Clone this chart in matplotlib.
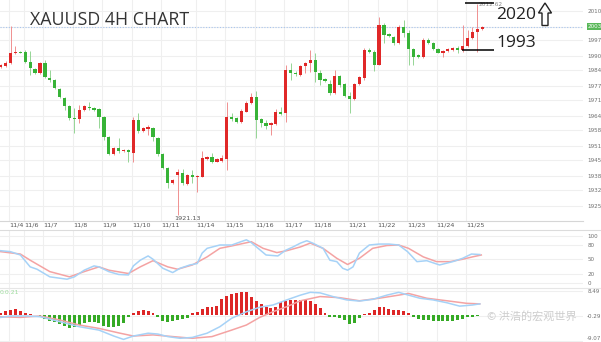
import numpy as np
import matplotlib
matplotlib.use("Agg")
import matplotlib.pyplot as plt
from matplotlib.patches import Polygon
from matplotlib.lines import Line2D
import matplotlib.transforms as mtrans

# ---- data ----------------------------------------------------------------
# 4H candles, oldest first (open, high, low, close)
opens = [1985.4, 1985.9, 1987.2, 1991.4, 1991.9, 1991.9, 1987.6, 1984.5, 1982.8, 1987.2,
         1980.6, 1979.8, 1975.8, 1972.1, 1968.4, 1963.4, 1962.8, 1966.7, 1968.1, 1967.6,
         1967.1, 1963.7, 1955.0, 1947.6, 1950.2, 1948.9, 1949.3, 1948.1, 1962.4, 1957.6,
         1958.3, 1958.7, 1954.5, 1947.6, 1941.5, 1934.9, 1938.4, 1939.4, 1934.5, 1938.4,
         1937.4, 1937.7, 1945.4, 1946.3, 1944.2, 1944.6, 1945.4, 1963.8, 1963.2, 1961.6,
         1966.0, 1969.9, 1972.2, 1962.8, 1961.2, 1960.2, 1960.6, 1966.0, 1965.3, 1984.1,
         1982.9, 1981.9, 1986.0, 1987.0, 1988.5, 1982.7, 1980.1, 1978.0, 1974.0, 1981.5,
         1978.0, 1972.8, 1971.4, 1978.0, 1980.5, 1992.8, 1992.1, 1986.3, 2003.7, 1999.6,
         1998.6, 1995.7, 2003.0, 2000.1, 1993.1, 1990.6, 1989.6, 1997.2, 1996.0, 1993.1,
         1991.6, 1992.4, 1992.8, 1993.6, 1992.8, 1994.7, 1997.9, 2000.8, 2001.8]
highs = [1986.7, 1988.0, 2003.3, 1994.6, 1992.4, 1992.8, 1992.5, 1985.0, 1987.6, 1988.5,
         1984.1, 1980.2, 1976.3, 1972.5, 1968.9, 1967.6, 1968.9, 1968.9, 1970.3, 1968.0,
         1967.6, 1964.1, 1955.4, 1950.6, 1954.5, 1949.7, 1949.7, 1963.8, 1965.4, 1959.3,
         1960.2, 1959.3, 1955.0, 1948.0, 1942.0, 1936.7, 1941.0, 1941.0, 1938.9, 1940.6,
         1938.4, 1949.0, 1946.7, 1947.9, 1945.8, 1947.1, 1970.3, 1965.5, 1963.7, 1967.1,
         1970.6, 1974.1, 1975.0, 1963.2, 1962.4, 1961.5, 1967.0, 1968.1, 1986.3, 1987.0,
         1983.7, 1986.3, 1987.7, 1992.8, 1991.4, 1984.1, 1980.6, 1979.8, 1984.1, 1981.9,
         1978.5, 1974.7, 1978.5, 1981.5, 1993.7, 1993.6, 1992.8, 2007.3, 2004.4, 2000.2,
         1998.9, 2003.5, 2005.9, 2001.5, 1993.7, 1991.1, 1997.9, 1997.9, 1996.3, 1993.5,
         1992.8, 1993.7, 1994.1, 1994.6, 2003.7, 2001.5, 2003.0, 2012.62, 2003.3]
lows = [1985.0, 1985.4, 1986.7, 1991.1, 1991.3, 1987.2, 1981.9, 1982.4, 1982.4, 1980.6,
        1978.9, 1975.8, 1971.9, 1966.7, 1962.4, 1956.7, 1961.0, 1966.3, 1966.7, 1966.3,
        1958.9, 1953.7, 1947.1, 1947.1, 1948.0, 1948.4, 1944.2, 1944.2, 1956.7, 1957.1,
        1955.8, 1953.3, 1946.7, 1941.0, 1932.8, 1934.5, 1921.13, 1934.1, 1934.1, 1934.9,
        1931.2, 1937.6, 1944.9, 1943.8, 1943.9, 1944.2, 1940.6, 1962.0, 1961.0, 1961.2,
        1965.8, 1969.5, 1954.5, 1959.4, 1958.4, 1955.8, 1960.2, 1964.5, 1961.6, 1979.8,
        1981.5, 1981.5, 1982.7, 1983.4, 1979.0, 1977.6, 1978.9, 1973.2, 1973.7, 1976.8,
        1972.2, 1965.3, 1971.1, 1977.6, 1979.8, 1991.4, 1983.8, 1986.1, 1995.7, 1998.5,
        1995.2, 1995.4, 1998.6, 1986.3, 1986.3, 1989.3, 1989.3, 1995.4, 1992.8, 1991.4,
        1989.6, 1991.9, 1992.5, 1991.4, 1992.1, 1994.3, 1997.6, 1992.1, 2001.5]
closes = [1986.3, 1987.3, 1991.5, 1992.1, 1991.6, 1987.6, 1985.0, 1982.8, 1987.2, 1981.1,
          1979.8, 1976.3, 1972.4, 1968.4, 1963.2, 1962.8, 1966.7, 1968.4, 1967.4, 1966.7,
          1963.7, 1955.0, 1947.6, 1950.2, 1948.9, 1949.1, 1948.4, 1962.4, 1957.6, 1958.7,
          1959.2, 1955.1, 1947.6, 1941.5, 1934.9, 1936.2, 1939.9, 1934.8, 1938.4, 1937.7,
          1938.0, 1945.8, 1946.3, 1944.2, 1945.4, 1945.8, 1963.8, 1962.7, 1961.6, 1966.4,
          1969.9, 1972.2, 1962.4, 1961.2, 1959.7, 1960.9, 1966.0, 1965.0, 1984.1, 1982.7,
          1982.2, 1985.9, 1987.0, 1988.5, 1983.4, 1979.8, 1979.5, 1974.0, 1981.5, 1977.6,
          1972.8, 1971.4, 1978.0, 1980.9, 1992.8, 1991.8, 1986.3, 2003.7, 1999.3, 1998.9,
          1995.7, 2003.0, 2000.1, 1993.1, 1989.9, 1989.6, 1997.2, 1995.7, 1993.1, 1991.6,
          1992.4, 1993.3, 1993.8, 1992.8, 1994.7, 1997.9, 2000.8, 2001.8, 2003.0]

day_labels = ["11/4", "11/6", "11/7", "11/8", "11/9", "11/10", "11/11", "11/14", "11/15",
              "11/16", "11/17", "11/18", "11/21", "11/22", "11/23", "11/24", "11/25"]
day_start = [2, 5, 9, 15, 21, 27, 33, 40, 46, 52, 58, 64, 71, 77, 83, 89, 95]

price_ticks = [2010, 2003, 1997, 1990, 1984, 1977, 1971, 1964, 1958, 1951, 1945, 1938, 1932, 1925]
last_price = 2003
swing_high = 2012.62
swing_low = 1921.13

# stochastic (%K blue, %D red), sampled along the candles
k_idx = [0, 2, 4, 6, 7.4, 10, 13.5, 15, 17, 19, 20, 22, 24, 26, 27, 28.4, 30, 31, 33, 35,
         36.5, 38.5, 40, 41, 42, 44.6, 47, 50, 51, 54, 56.4, 58, 59.5, 61, 62.3, 63.5, 65.6,
         67, 68.4, 69.6, 70.6, 71.7, 73, 75, 77, 79, 81, 82.8, 84.7, 86.7, 89.3, 92, 94,
         95.8, 97.5]
k_val = [68, 66, 59, 34, 29, 13, 8, 13, 27, 36, 34, 24, 18, 17, 36, 48, 57, 50, 31, 22,
         31, 38, 41, 63, 73, 80, 80, 91, 85, 59, 57, 69, 76, 84, 89, 84, 73,
         48, 45, 31, 27, 34, 63, 80, 82, 82, 80, 66, 45, 47, 38, 45, 52, 61, 60]
d_idx = [0, 4, 6, 10, 14, 17, 20, 22, 26, 28.4, 31, 34, 36, 39, 42, 44.6, 47, 51, 53.4,
         56.2, 58.2, 61, 63, 65.6, 68.4, 70.6, 73, 75.7, 78.6, 81, 83, 86, 88.7, 91.4, 94,
         96, 97.8]
d_val = [66, 61, 48, 24, 13, 24, 34, 27, 20, 34, 47, 34, 29, 38, 55, 73, 78, 87, 73,
         64, 68, 76, 84, 73, 52, 39, 52, 73, 79, 80, 73, 55, 45, 45, 50, 55, 59]
stoch_ticks = [100, 80, 50, 20, 0]

# MACD histogram (one bar per candle) and the two lines
macd_hist = [0.8, 1.6, 1.9, 2.2, 1.6, 1.0, 0.4, 0.05, -0.7, -1.3, -1.9, -2.2, -3.1, -3.6,
             -4.4, -4.2, -3.4, -2.8, -2.4, -2.4, -2.8, -3.8, -4.0, -4.2, -3.8, -2.8, -0.7,
             0.8, 1.6, 1.9, 1.6, 0.8, -0.7, -1.9, -2.2, -2.0, -1.6, -1.4, -1.0, 0.8, 1.3,
             2.3, 2.9, 3.1, 3.4, 5.7, 7.0, 7.5, 7.9, 8.2, 8.2, 6.7, 5.2, 4.1, 2.9, 2.5, 2.9,
             4.9, 5.1, 5.5, 5.5, 5.5, 5.5, 5.1, 4.1, 2.5, 1.0, -0.4, -0.7, -0.9, -1.6, -3.0,
             -2.6, -1.0, 0.4, 0.8, 1.9, 2.9, 2.9, 2.3, 1.9, 1.9, 1.6, 0.8, -0.7, -1.4, -1.6,
             -1.6, -1.9, -1.9, -2.0, -2.0, -1.9, -1.6, -1.3, -0.7, -0.5, -0.2]
macd_idx = [0, 2, 5.4, 8, 12, 16, 20, 23, 25, 27, 30, 32, 34, 36.5, 39, 42, 44.6, 47, 50,
            52.7, 55.4, 58.2, 61, 63, 65, 67.6, 70.4, 73, 75.7, 78.6, 81, 83, 85.3, 88,
            90.8, 93.4, 96, 97.5]
macd_line = [-0.7, -0.2, -0.2, -0.45, -2.2, -4.0, -5.2, -7.3, -8.5, -7.3, -6.3, -6.6, -7.5,
             -8.1, -7.8, -6.3, -4.0, -1.0, 1.3, 2.9, 3.7, 5.5, 7.2, 8.2, 8.0, 6.7, 5.5,
             5.1, 5.7, 7.2, 8.2, 7.2, 6.1, 5.5, 4.5, 3.3, 3.7, 4.1]
sig_idx = [0, 4, 8, 12, 16, 20, 24.3, 27, 31, 35, 39, 43, 47, 50, 52.7, 55.4, 58.2, 61,
           65, 69, 73, 77, 81, 83, 86.7, 90.8, 94.8, 97.5]
sig_line = [-0.45, -0.7, -0.2, -1.6, -3.4, -4.6, -6.3, -7.3, -6.9, -7.5, -8.1, -7.5, -5.2,
            -3.4, -0.7, 1.3, 3.1, 5.2, 6.7, 6.3, 5.2, 6.1, 7.2, 7.8, 6.1, 5.2, 4.3, 4.1]
macd_ticks = [8.49, -0.29, -9.07]

# ---- layout ---------------------------------------------------------------
W, H = 601, 342
fig = plt.figure(figsize=(W / 100, H / 100), dpi=100)
fig.patch.set_facecolor("white")


def px_axes(x0, y0, x1, y1):
    return fig.add_axes([x0 / W, 1 - y1 / H, (x1 - x0) / W, (y1 - y0) / H])


ax_p = px_axes(0, 0, 583, 221)
ax_s = px_axes(0, 231, 583, 288)
ax_m = px_axes(0, 288, 583, 342)

RED = "#e02828"
GREEN = "#37b337"
GRID = "#efefef"
LBL = "#707070"
TICK_FS = 4.1
xmin, xmax = -0.14, 118.5
n = len(opens)
idx = np.arange(n)

for ax in (ax_p, ax_s, ax_m):
    ax.set_xlim(xmin, xmax)
    for s in ax.spines.values():
        s.set_visible(False)
    ax.set_xticks([])
    ax.yaxis.tick_right()
    ax.tick_params(axis="y", length=0, pad=3, labelsize=TICK_FS, labelcolor=LBL)
    for d in day_start:
        ax.axvline(d - 0.3, color=GRID, lw=0.8, zorder=0)

# ---- price panel ----------------------------------------------------------
ax_p.set_ylim(1918.4, 2014.57)
ax_p.set_yticks(price_ticks)
ax_p.set_yticklabels(["" if t == last_price else str(t) for t in price_ticks])
for t in price_ticks:
    ax_p.axhline(t, color=GRID, lw=0.8, zorder=0)

o = np.array(opens)
c = np.array(closes)
up = c >= o
body_col = np.where(up, RED, GREEN)
wick_col = np.where(up, "#f09090", "#95d595")
ax_p.vlines(idx, lows, highs, colors=wick_col, lw=0.7, zorder=2)
ax_p.bar(idx, np.maximum(np.abs(c - o), 0.35), bottom=np.minimum(o, c), width=0.66,
         color=body_col, lw=0, zorder=3)

ax_p.axhline(last_price, color="#a9c6ee", lw=0.8, ls=(0, (1, 1.5)), zorder=1)
ax_p.text(1.008, last_price, str(last_price), transform=ax_p.get_yaxis_transform(),
          ha="left", va="center", fontsize=TICK_FS, color="white",
          bbox=dict(boxstyle="square,pad=0.2", fc="#59b859", ec="none"))

ax_p.text(0.0515, 0.91, "XAUUSD 4H CHART", transform=ax_p.transAxes, ha="left",
          va="center", fontsize=12.8, color="#333333", family="Open Sans")

ax_p.text(n - 2 + 0.25, swing_high, f"{swing_high:.2f}", ha="left", va="center",
          fontsize=4.2, color="#888888", zorder=4)
ax_p.text(36 - 0.7, swing_low - 0.4, f"{swing_low:.2f}", ha="left", va="top",
          fontsize=4.6, color="#555555")

# hand-drawn target marks
ax_p.hlines(2013.1, 94.4, 100.3, color="black", lw=1.1, zorder=5)
ax_p.hlines(1992.8, 93.9, 100.3, color="black", lw=1.1, zorder=5)
ax_p.text(100.9, 2008.0, "2020", ha="left", va="center", fontsize=12.5,
          color="#222222", family="Open Sans")
ax_p.text(100.9, 1995.9, "1993", ha="left", va="center", fontsize=12.5,
          color="#222222", family="Open Sans")
arrow_px = [(545, 3), (551.5, 13), (548, 13), (548, 25.5),
            (542, 25.5), (542, 13), (538.5, 13)]
fig.patches.append(Polygon([(x / W, 1 - y / H) for x, y in arrow_px], closed=True,
                           fill=False, ec="#222222", lw=1.0,
                           transform=fig.transFigure, figure=fig))

# date labels under the price panel
lab_tr = mtrans.blended_transform_factory(ax_p.transData, ax_p.transAxes)
for lab, d in zip(day_labels, day_start):
    ax_p.text(d - 0.3, -0.006, lab, transform=lab_tr, ha="left", va="top",
              fontsize=4.6, color="#555555", clip_on=False)

# separators
for y, col in ((221, "#d6d6d6"), (229.5, "#dcdcdc"), (288, "#e6e6e6")):
    fig.add_artist(Line2D([0, 1 if y != 221 else 583 / W], [1 - y / H] * 2,
                          color=col, lw=0.8, transform=fig.transFigure))

# ---- stochastic panel -----------------------------------------------------
ax_s.set_ylim(-10.5, 109.5)
ax_s.set_yticks(stoch_ticks)
ax_s.set_yticklabels([str(t) for t in stoch_ticks])
for t in stoch_ticks:
    ax_s.axhline(t, color=GRID, lw=0.8, zorder=0)
ax_s.plot(d_idx, d_val, color="#f4a3a3", lw=1.1)
ax_s.plot(k_idx, k_val, color="#a6d2f7", lw=1.1)

# ---- MACD panel -----------------------------------------------------------
ax_m.set_ylim(-9.42, 9.73)
ax_m.set_yticks(macd_ticks)
ax_m.set_yticklabels([f"{t:.2f}" for t in macd_ticks])
ax_m.get_yticklabels()[-1].set_va("bottom")
for t in macd_ticks:
    ax_m.axhline(t, color=GRID, lw=0.8, zorder=0)
h = np.array(macd_hist)
ax_m.bar(np.arange(len(h)), h, width=0.6, color=np.where(h >= 0, "#dd2626", "#35aa25"),
         lw=0, zorder=2)
ax_m.plot(sig_idx, sig_line, color="#f4a3a3", lw=1.1, zorder=3)
ax_m.plot(macd_idx, macd_line, color="#a6d2f7", lw=1.1, zorder=3)
ax_m.text(0.0, 0.96, "0.0.21", transform=ax_m.transAxes, ha="left", va="top",
          fontsize=4.4, color="#9ddc9d")

# watermark
fig.text(487 / W, 1 - 316 / H, "© 洪浩的宏观世界", ha="left", va="center",
         fontsize=8, color="#c8c8c8", alpha=0.9,
         family=["Noto Sans CJK SC", "DejaVu Sans"])

fig.savefig("out.png", dpi=100)
